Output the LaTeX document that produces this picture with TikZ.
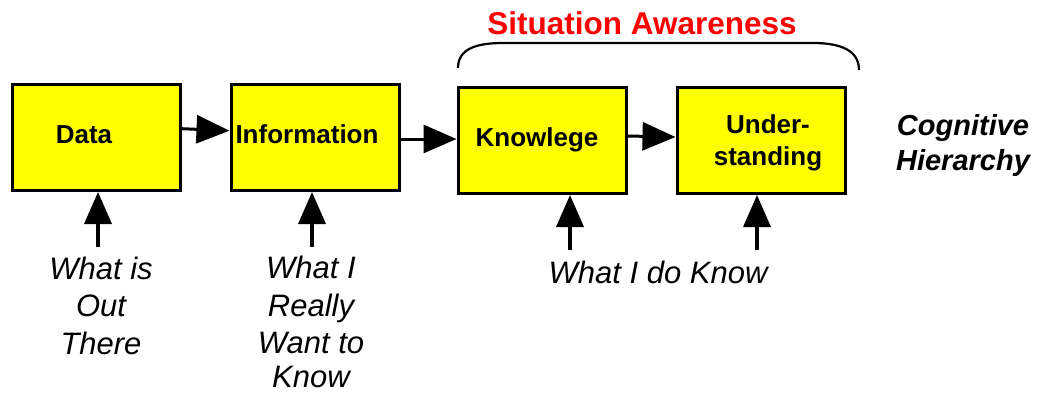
\documentclass[tikz,border=0pt]{standalone}
\usepackage{fontspec}
\setmainfont{Liberation Sans}
\usetikzlibrary{arrows.meta}
\definecolor{boxyellow}{RGB}{255,255,0}
\definecolor{sared}{RGB}{255,0,0}
\tikzset{
  stagebox/.style={draw=black, line width=3pt, fill=boxyellow, minimum width=168pt, minimum height=106pt, inner sep=0pt},
  stagetext/.style={font=\bfseries\fontsize{26}{32}\selectfont, align=center, anchor=base},
  sidetext/.style={font=\itshape\fontsize{31}{37.5}\selectfont, align=center, anchor=base},
  flow/.style={line width=3pt, -{Triangle[length=33pt,width=28pt]}},
  feed/.style={line width=3.5pt, -{Triangle[length=32pt,width=27pt]}},
}
\begin{document}
\begin{tikzpicture}[x=1pt,y=-1pt]
\useasboundingbox (0,0) rectangle (1041,392);
% boxes
\node[stagebox] (dataBox) at (96.5,137.5) {};
\node[stagebox] (infoBox) at (315,137.5) {};
\node[stagebox] (knowBox) at (542,140.5) {};
\node[stagebox] (underBox) at (761,140.5) {};
% box texts (base anchor = last line)
\node[stagetext] (dataTxt) at (84,143) {Data};
\node[stagetext] (infoTxt) at (307,143) {Information};
\node[stagetext] (knowTxt) at (537,146) {Knowlege};
\node[stagetext] (underTxt) at (768,165) {Under-\\standing};
% title and side label
\node[font=\bfseries\fontsize{31.5}{36}\selectfont, text=sared, anchor=base] (saTxt) at (642,34.5) {Situation Awareness};
\node[font=\bfseries\itshape\fontsize{29}{35}\selectfont, align=center, anchor=base] (cogTxt) at (963,170) {Cognitive\\Hierarchy};
% brace
\draw[line width=2.2pt] (458,68) .. controls (458,48) and (478,43) .. (503,43) -- (813,43) .. controls (840,43) and (859,50) .. (859,70);
% horizontal arrows
\draw[flow] ([yshift=8.8pt]dataBox.east) -- ([yshift=6.8pt]infoBox.west);
\draw[flow] ([yshift=-1.5pt]infoBox.east) -- ([yshift=1.5pt]knowBox.west);
\draw[flow] ([yshift=4.5pt]knowBox.east) -- ([yshift=3.5pt]underBox.west);
% feed-in arrows
\coordinate (dataIn) at (98,247);
\coordinate (infoIn) at (312,247);
\coordinate (knowIn) at (570,250);
\coordinate (underIn) at (757,250);
\draw[feed] (dataIn) -- (dataIn |- dataBox.south);
\draw[feed] (infoIn) -- (infoIn |- infoBox.south);
\draw[feed] (knowIn) -- (knowIn |- knowBox.south);
\draw[feed] (underIn) -- (underIn |- underBox.south);
% labels
\node[sidetext] (outTxt) at (101,354) {What is\\Out\\There};
\node[sidetext] (wantTxt) at (311,387) {What I\\Really\\Want to\\[-4pt]Know};
\node[sidetext] (doTxt) at (658,283) {What I do Know};
\end{tikzpicture}
\end{document}
